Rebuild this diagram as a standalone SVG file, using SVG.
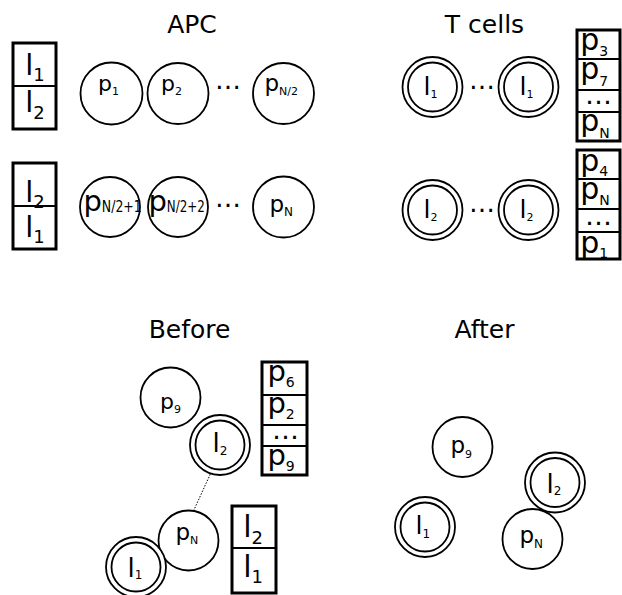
<svg xmlns="http://www.w3.org/2000/svg" width="622" height="595" viewBox="0 0 622 595">
<style>
text{font-family:"DejaVu Sans","Liberation Sans",sans-serif;fill:#000}
.title{font-size:25px;text-anchor:middle}
.c{fill:#fff;stroke:#000;stroke-width:1.8}
.box{fill:#fff;stroke:#000;stroke-width:3}
.div{stroke:#000;stroke-width:2}
.p22{font-size:22px}.p23{font-size:23px}.p29{font-size:29px}.p30{font-size:30px}
.l25{font-size:25px}.l26{font-size:26px}
.s11{font-size:11px}.s12{font-size:12px}.s14{font-size:14px}.s15{font-size:15px}.s18{font-size:18px}
.dots{font-size:26px}
</style>
<defs>
<g id="dbl"><circle r="30" class="c"/><circle r="24.5" class="c"/></g>
</defs>
<text class="title" x="192" y="33">APC</text>
<text class="title" x="484.5" y="33">T cells</text>
<text class="title" x="189.5" y="338">Before</text>
<text class="title" x="484.5" y="338">After</text>

<g id="apc-box1">
<rect class="box" x="13" y="43" width="43" height="86"/>
<line class="div" x1="13" y1="86" x2="56" y2="86"/>
<text class="p29" x="25.3" y="75">l<tspan class="s18" dy="6">1</tspan></text>
<text class="p29" x="25.3" y="112">l<tspan class="s18" dy="7">2</tspan></text>
</g>
<g id="apc-box2">
<rect class="box" x="13" y="163" width="43" height="86"/>
<line class="div" x1="13" y1="206" x2="56" y2="206"/>
<text class="p29" x="25.3" y="202">l<tspan class="s18" dy="6">2</tspan></text>
<text class="p29" x="25.3" y="237">l<tspan class="s18" dy="6">1</tspan></text>
</g>
<g id="p1"><circle class="c" cx="111.5" cy="93.5" r="31"/><text class="p22" x="98" y="91">p<tspan class="s11" dy="4">1</tspan></text></g>
<g id="p2"><circle class="c" cx="178" cy="93.5" r="30.5"/><text class="p22" x="161" y="91">p<tspan class="s11" dy="4">2</tspan></text></g>
<text class="dots" x="215" y="89">…</text>
<g id="pN2"><circle class="c" cx="283.5" cy="93.5" r="30.5"/><text class="p23" x="264.5" y="91">p<tspan class="s11" dy="4">N/2</tspan></text></g>

<g id="pN21"><circle class="c" cx="110" cy="207" r="30"/><text class="p29" x="83.4" y="211">p<tspan class="s15" dy="1" textLength="40" lengthAdjust="spacingAndGlyphs">N/2+1</tspan></text></g>
<g id="pN22"><circle class="c" cx="178" cy="207" r="30"/><text class="p29" x="148.4" y="211">p<tspan class="s15" dy="1" textLength="38" lengthAdjust="spacingAndGlyphs">N/2+2</tspan></text></g>
<text class="dots" x="215" y="207">…</text>
<g id="pN"><circle class="c" cx="283.5" cy="207" r="30.5"/><text class="p23" x="269.5" y="212">p<tspan class="s12" dy="3.5">N</tspan></text></g>

<g id="t1a"><use href="#dbl" x="432.5" y="87"/><text class="l25" x="423.5" y="95">l<tspan class="s11" dy="3">1</tspan></text></g>
<text class="dots" x="469" y="89">…</text>
<g id="t1b"><use href="#dbl" x="528.5" y="87"/><text class="l25" x="519.5" y="95">l<tspan class="s11" dy="3">1</tspan></text></g>
<g id="t2a"><use href="#dbl" x="432.5" y="210"/><text class="l25" x="423.5" y="218">l<tspan class="s11" dy="3">2</tspan></text></g>
<text class="dots" x="469" y="212">…</text>
<g id="t2b"><use href="#dbl" x="528.5" y="210"/><text class="l25" x="519.5" y="218">l<tspan class="s11" dy="3">2</tspan></text></g>

<g id="t-box1">
<rect class="box" x="577" y="30" width="43" height="111"/>
<line class="div" x1="577" y1="59" x2="620" y2="59"/>
<line class="div" x1="577" y1="90" x2="620" y2="90"/>
<line class="div" x1="577" y1="112" x2="620" y2="112"/>
<text class="p30" x="580.3" y="49.5">p<tspan class="s14" dy="6.5">3</tspan></text>
<text class="p30" x="580.3" y="79">p<tspan class="s14" dy="6.5">7</tspan></text>
<text class="dots" x="585" y="103.5" style="font-size:27px">…</text>
<text class="p30" x="580.3" y="131">p<tspan class="s14" dy="6.5">N</tspan></text>
</g>
<g id="t-box2">
<rect class="box" x="577" y="150" width="43" height="109"/>
<line class="div" x1="577" y1="179" x2="620" y2="179"/>
<line class="div" x1="577" y1="209" x2="620" y2="209"/>
<line class="div" x1="577" y1="232" x2="620" y2="232"/>
<text class="p30" x="580.3" y="170.5">p<tspan class="s14" dy="5">4</tspan></text>
<text class="p30" x="580.3" y="198.5">p<tspan class="s14" dy="6.5">N</tspan></text>
<text class="dots" x="585" y="224.5" style="font-size:27px">…</text>
<text class="p30" x="580.3" y="253">p<tspan class="s14" dy="4.5">1</tspan></text>
</g>

<g id="connectors">
<line x1="214" y1="466" x2="193" y2="512" stroke="#000" stroke-width="1" stroke-dasharray="1.5,1.5"/>
</g>

<g id="b-p9"><circle class="c" cx="170.5" cy="397.5" r="30"/><text class="p22" x="160" y="409">p<tspan class="s11" dy="4">9</tspan></text></g>
<g id="b-l2"><use href="#dbl" x="220" y="445"/><text class="l26" x="212.5" y="452">l<tspan class="s12" dy="3">2</tspan></text></g>
<g id="b-pN"><circle class="c" cx="188.5" cy="540.5" r="30"/><text class="p23" x="175.5" y="540">p<tspan class="s11" dy="3.5">N</tspan></text></g>
<g id="b-l1"><use href="#dbl" x="136" y="567"/><text class="l26" x="127.5" y="577">l<tspan class="s12" dy="2">1</tspan></text></g>
<g id="b-box1">
<rect class="box" x="262" y="362" width="45" height="113"/>
<line class="div" x1="262" y1="395" x2="307" y2="395"/>
<line class="div" x1="262" y1="425" x2="307" y2="425"/>
<line class="div" x1="262" y1="446" x2="307" y2="446"/>
<text class="p29" x="267.4" y="381">p<tspan class="s14" dy="6">6</tspan></text>
<text class="p29" x="267.4" y="413">p<tspan class="s14" dy="6">2</tspan></text>
<text class="dots" x="272" y="438.5" style="font-size:27px">…</text>
<text class="p29" x="267.4" y="465">p<tspan class="s14" dy="6">9</tspan></text>
</g>
<g id="b-box2">
<rect class="box" x="232" y="506" width="44" height="87"/>
<line class="div" x1="232" y1="548" x2="276" y2="548"/>
<text class="p30" x="243.2" y="537">l<tspan class="s18" dy="7">2</tspan></text>
<text class="p30" x="243.2" y="577">l<tspan class="s18" dy="6">1</tspan></text>
</g>

<g id="a-p9"><circle class="c" cx="462.5" cy="447" r="30"/><text class="p23" x="450.5" y="453">p<tspan class="s11" dy="4.5">9</tspan></text></g>
<g id="a-l2"><use href="#dbl" x="555" y="482.5"/><text class="l26" x="546.6" y="493">l<tspan class="s12" dy="2">2</tspan></text></g>
<g id="a-l1"><use href="#dbl" x="425" y="527"/><text class="l25" x="415.6" y="534">l<tspan class="s12" dy="4">1</tspan></text></g>
<g id="a-pN"><circle class="c" cx="532.5" cy="539" r="30"/><text class="p23" x="519.5" y="542.5">p<tspan class="s12" dy="5">N</tspan></text></g>
</svg>
